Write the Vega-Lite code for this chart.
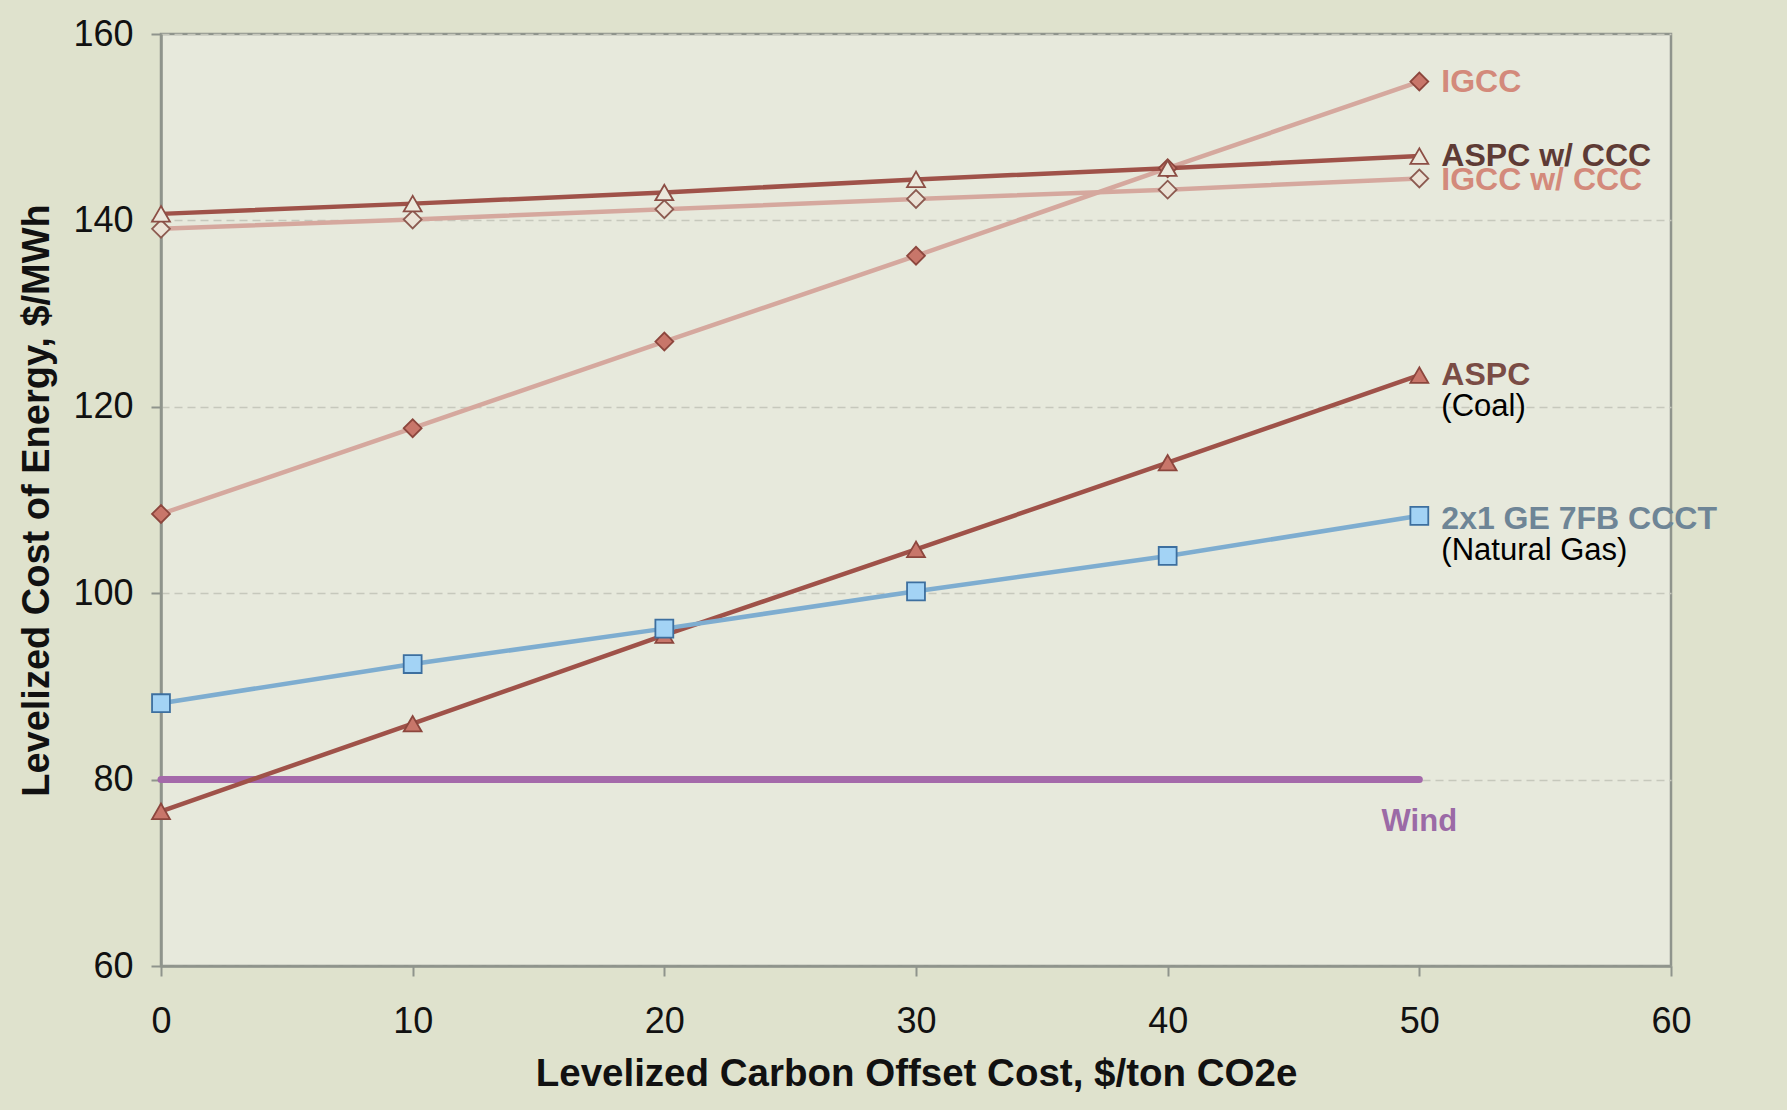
{
  "$schema": "https://vega.github.io/schema/vega-lite/v6.json",
  "autosize": "none",
  "width": 1510,
  "height": 932,
  "padding": {"left": 161, "top": 34, "right": 116, "bottom": 144},
  "background": "#dfe2cd",
  "config": {
    "font": "Liberation Sans",
    "view": {"fill": "#e7e9dc", "stroke": "#8f948c", "strokeWidth": 2.5},
    "axis": {
      "labelFont": "Liberation Sans",
      "titleFont": "Liberation Sans",
      "labelColor": "#111111",
      "titleColor": "#111111",
      "domainColor": "#8f948c",
      "domainWidth": 2.5,
      "tickColor": "#8f948c",
      "tickWidth": 2,
      "labelFlush": false,
      "labelBound": false,
      "labelOverlap": false
    }
  },
  "datasets": {
    "series": [
      {"series": "IGCC", "x": 0, "y": 108.5}, {"series": "IGCC", "x": 10, "y": 117.7}, {"series": "IGCC", "x": 20, "y": 127.0}, {"series": "IGCC", "x": 30, "y": 136.2}, {"series": "IGCC", "x": 40, "y": 145.6}, {"series": "IGCC", "x": 50, "y": 154.9},
      {"series": "IGCC w/ CCC", "x": 0, "y": 139.1}, {"series": "IGCC w/ CCC", "x": 10, "y": 140.1}, {"series": "IGCC w/ CCC", "x": 20, "y": 141.2}, {"series": "IGCC w/ CCC", "x": 30, "y": 142.3}, {"series": "IGCC w/ CCC", "x": 40, "y": 143.3}, {"series": "IGCC w/ CCC", "x": 50, "y": 144.5},
      {"series": "ASPC w/ CCC", "x": 0, "y": 140.7}, {"series": "ASPC w/ CCC", "x": 10, "y": 141.8}, {"series": "ASPC w/ CCC", "x": 20, "y": 143.0}, {"series": "ASPC w/ CCC", "x": 30, "y": 144.4}, {"series": "ASPC w/ CCC", "x": 40, "y": 145.6}, {"series": "ASPC w/ CCC", "x": 50, "y": 146.9},
      {"series": "ASPC", "x": 0, "y": 76.6}, {"series": "ASPC", "x": 10, "y": 86.0}, {"series": "ASPC", "x": 20, "y": 95.5}, {"series": "ASPC", "x": 30, "y": 104.7}, {"series": "ASPC", "x": 40, "y": 114.0}, {"series": "ASPC", "x": 50, "y": 123.4},
      {"series": "CCCT", "x": 0, "y": 88.2}, {"series": "CCCT", "x": 10, "y": 92.4}, {"series": "CCCT", "x": 20, "y": 96.2}, {"series": "CCCT", "x": 30, "y": 100.2}, {"series": "CCCT", "x": 40, "y": 104.0}, {"series": "CCCT", "x": 50, "y": 108.3}
    ],
    "wind": [
      {"series": "Wind", "x": 0, "y": 80}, {"series": "Wind", "x": 50, "y": 80}
    ],
    "labels": [
      {"series": "IGCC", "x": 50, "y": 154.9, "label": "IGCC", "sub": ""},
      {"series": "ASPC w/ CCC", "x": 50, "y": 146.9, "label": "ASPC w/ CCC", "sub": ""},
      {"series": "IGCC w/ CCC", "x": 50, "y": 144.3, "label": "IGCC w/ CCC", "sub": ""},
      {"series": "ASPC", "x": 50, "y": 123.4, "label": "ASPC", "sub": "(Coal)"},
      {"series": "CCCT", "x": 50, "y": 108.0, "label": "2x1 GE 7FB CCCT", "sub": "(Natural Gas)"}
    ],
    "windlabel": [
      {"series": "Wind", "x": 50, "y": 80, "label": "Wind"}
    ]
  },
  "encoding": {
    "x": {
      "field": "x", "type": "quantitative",
      "scale": {"domain": [0, 60], "nice": false},
      "axis": {
        "title": "Levelized Carbon Offset Cost, $/ton CO2e",
        "values": [0, 10, 20, 30, 40, 50, 60],
        "grid": false,
        "labelFontSize": 36,
        "labelPadding": 28,
        "tickSize": 10,
        "titleFontSize": 38.5,
        "titleFontWeight": "bold",
        "titlePadding": 16
      }
    },
    "y": {
      "field": "y", "type": "quantitative",
      "scale": {"domain": [60, 160], "nice": false},
      "axis": {
        "title": "Levelized Cost of Energy, $/MWh",
        "values": [60, 80, 100, 120, 140, 160],
        "grid": true,
        "gridColor": "#c6c8bc",
        "gridDash": [8, 5],
        "gridWidth": 1.5,
        "labelFontSize": 36,
        "labelPadding": 18,
        "tickSize": 10,
        "titleFontSize": 38,
        "titleFontWeight": "bold",
        "titlePadding": 16
      }
    }
  },
  "layer": [
    {
      "data": {"name": "wind"},
      "mark": {"type": "line", "strokeWidth": 7, "color": "#a469aa", "strokeCap": "round"},
      "encoding": {}
    },
    {
      "data": {"name": "series"},
      "mark": {"type": "line", "strokeWidth": 4.5},
      "encoding": {
        "detail": {"field": "series"},
        "color": {
          "field": "series", "type": "nominal", "legend": null,
          "scale": {
            "domain": ["IGCC", "IGCC w/ CCC", "ASPC w/ CCC", "ASPC", "CCCT"],
            "range": ["#d5a89e", "#d5a89e", "#9f5249", "#9f5249", "#7eadd0"]
          }
        }
      }
    },
    {
      "data": {"name": "series"},
      "mark": {"type": "point", "filled": true, "size": 320, "strokeWidth": 1.8, "opacity": 1},
      "encoding": {
        "shape": {
          "field": "series", "type": "nominal", "legend": null,
          "scale": {
            "domain": ["IGCC", "IGCC w/ CCC", "ASPC w/ CCC", "ASPC", "CCCT"],
            "range": ["diamond", "diamond", "triangle-up", "triangle-up", "square"]
          }
        },
        "fill": {
          "field": "series", "type": "nominal", "legend": null,
          "scale": {
            "domain": ["IGCC", "IGCC w/ CCC", "ASPC w/ CCC", "ASPC", "CCCT"],
            "range": ["#c8766a", "#ebe3d6", "#ebe8dc", "#c8766a", "#a3d3f5"]
          }
        },
        "stroke": {
          "field": "series", "type": "nominal", "legend": null,
          "scale": {
            "domain": ["IGCC", "IGCC w/ CCC", "ASPC w/ CCC", "ASPC", "CCCT"],
            "range": ["#8c463d", "#8c5a50", "#8c4e45", "#8c463d", "#3d6f9f"]
          }
        }
      }
    },
    {
      "data": {"name": "labels"},
      "mark": {"type": "text", "align": "left", "baseline": "middle", "dx": 22, "fontSize": 32, "fontWeight": "bold"},
      "encoding": {
        "text": {"field": "label"},
        "color": {
          "field": "series", "type": "nominal", "legend": null,
          "scale": {
            "domain": ["IGCC", "IGCC w/ CCC", "ASPC w/ CCC", "ASPC", "CCCT"],
            "range": ["#d38a7b", "#d38a7b", "#5e3b35", "#7a4c45", "#6e8596"]
          }
        }
      }
    },
    {
      "data": {"name": "labels"},
      "mark": {"type": "text", "align": "left", "baseline": "middle", "dx": 22, "dy": 32, "fontSize": 31, "color": "#000000"},
      "encoding": {
        "text": {"field": "sub"}
      }
    },
    {
      "data": {"name": "windlabel"},
      "mark": {"type": "text", "align": "center", "baseline": "middle", "dy": 42, "fontSize": 31, "fontWeight": "bold", "color": "#9b6aa6"},
      "encoding": {
        "text": {"field": "label"}
      }
    }
  ],
  "resolve": {"scale": {"color": "independent"}}
}
